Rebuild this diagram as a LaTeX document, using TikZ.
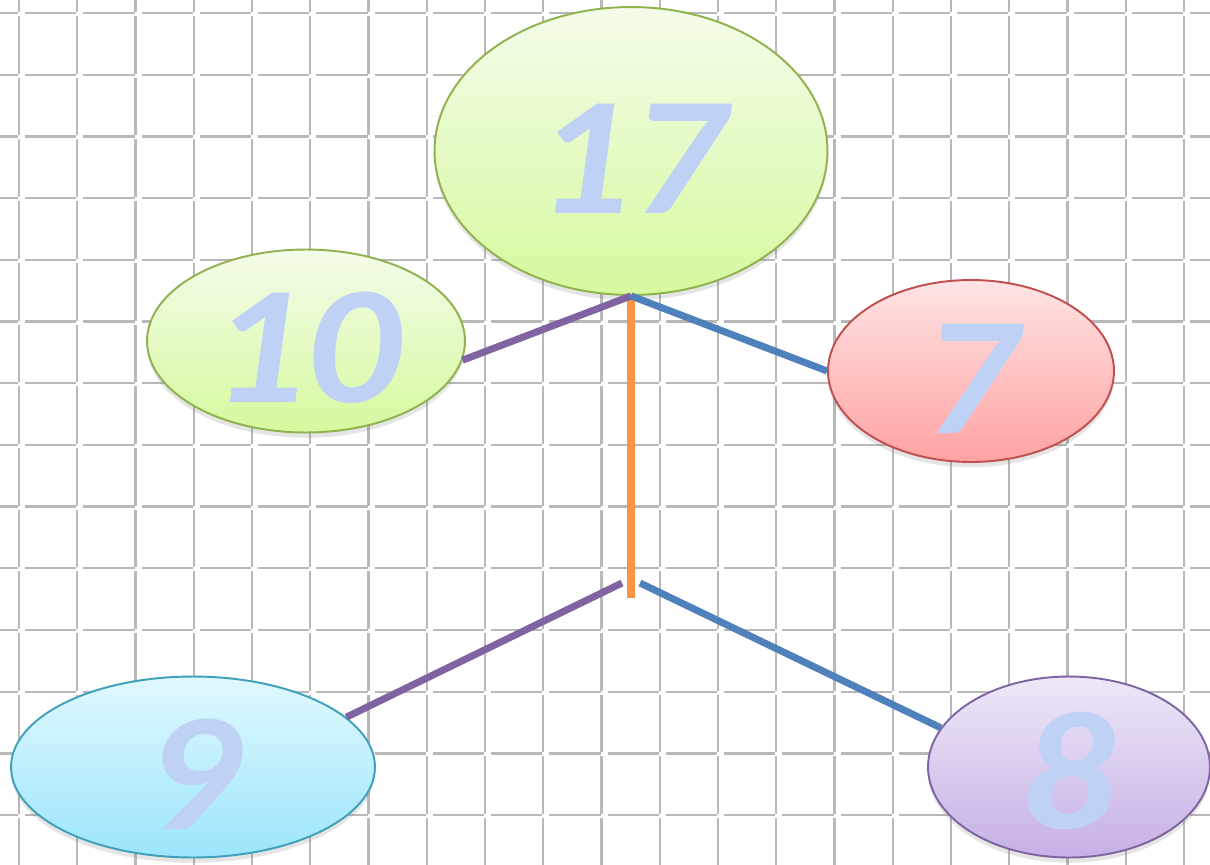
\documentclass[tikz,border=0pt]{standalone}
\usepackage{fontspec}
\newfontfamily\chiffres{Carlito}
\usetikzlibrary{shapes.geometric,shadows}
\definecolor{grille}{RGB}{184,184,184}
\definecolor{chiffre}{RGB}{191,210,246}
\definecolor{vhaut}{RGB}{244,252,234}
\definecolor{vbas}{RGB}{214,249,158}
\definecolor{vbord}{RGB}{143,178,78}
\definecolor{rhaut}{RGB}{255,228,228}
\definecolor{rbas}{RGB}{255,162,162}
\definecolor{rbord}{RGB}{192,80,77}
\definecolor{chaut}{RGB}{224,249,255}
\definecolor{cbas}{RGB}{156,229,251}
\definecolor{cbord}{RGB}{64,160,186}
\definecolor{lhaut}{RGB}{238,232,248}
\definecolor{lbas}{RGB}{198,176,230}
\definecolor{lbord}{RGB}{128,100,162}
\definecolor{violet}{RGB}{128,100,162}
\definecolor{bleu}{RGB}{79,129,189}
\definecolor{orange}{RGB}{247,150,70}
\newcommand{\gros}[1]{\scalebox{1.1}[1]{#1}}

\begin{document}
\begin{tikzpicture}[x=0.02cm,y=-0.02cm,
  bulle/.style={ellipse,line width=1.1pt,inner sep=0pt,text height=71pt,
    font=\chiffres\bfseries\itshape\fontsize{96}{96}\selectfont,text=chiffre,
    drop shadow={opacity=0.2,shadow xshift=0pt,shadow yshift=-3pt}},
  vert/.style={bulle,draw=vbord,top color=vhaut,bottom color=vbas},
  rouge/.style={bulle,draw=rbord,top color=rhaut,bottom color=rbas},
  cyan/.style={bulle,draw=cbord,top color=chaut,bottom color=cbas},
  lilas/.style={bulle,draw=lbord,top color=lhaut,bottom color=lbas},
  trait/.style={line width=4pt},
  carreau/.style={line width=1.3pt,grille}]
\clip (0,0) rectangle (1210,865);
\fill [white] (0,0) rectangle (1210,865);

% quadrillage
\foreach \i in {-1,...,20}
  \foreach \j in {-1,...,14}
  {
    \draw [carreau] (19+58.25*\i,13+61.7*\j+3) -- (19+58.25*\i,13+61.7*\j+60.7);
    \draw [carreau] (19+58.25*\i+6,13+61.7*\j) -- (19+58.25*\i+57.25,13+61.7*\j);
  }

\node [vert, minimum width=7.86cm, minimum height=5.76cm] (dixsept) at (631,151) {\gros{17}};
\node [vert, minimum width=6.36cm, minimum height=3.66cm] (dix) at (306,341) {\gros{10}};
\node [rouge, minimum width=5.72cm, minimum height=3.64cm] (sept) at (971,371) {\gros{7}};
\node [cyan, minimum width=7.28cm, minimum height=3.62cm] (neuf) at (193,767) {\gros{9}};
\node [lilas, minimum width=5.64cm, minimum height=3.62cm] (huit) at (1069,767) {\gros{8}};

\coordinate (pied) at (631,598);
\coordinate (gauche) at (622,583);
\coordinate (droite) at (640,583);

\draw [trait, line width=4.5pt, orange] (dixsept.south) -- (pied);
\draw [trait, violet] (dix.-7) -- (dixsept.south);
\draw [trait, bleu] (dixsept.south) -- (sept.west);
\draw [trait, violet] (neuf.18) -- (gauche);
\draw [trait, bleu] (droite) -- (huit.163);

\end{tikzpicture}
\end{document}
